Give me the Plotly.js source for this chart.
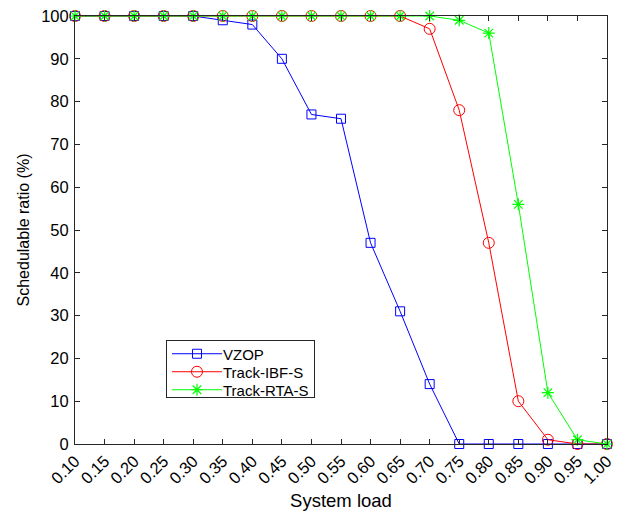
<!DOCTYPE html>
<html><head><meta charset="utf-8">
<script src="https://cdn.plot.ly/plotly-3.0.1.min.js"></script>
<style>html,body{margin:0;padding:0;background:#fff}#chart{width:630px;height:511px}</style>
</head><body><div id="chart"></div>
<script>
const loads = [0.10,0.15,0.20,0.25,0.30,0.35,0.40,0.45,0.50,0.55,0.60,0.65,0.70,0.75,0.80,0.85,0.90,0.95,1.00];
const vzop = [100,100,100,100,100,99,98,90,77,76,47,31,14,0,0,0,0,0,0];
const ibf  = [100,100,100,100,100,100,100,100,100,100,100,100,97,78,47,10,1,0,0];
const rta  = [100,100,100,100,100,100,100,100,100,100,100,100,100,99,96,56,12,1,0];
const tickLabels = loads.map(v => v.toFixed(2));
const seriesNames = ['VZOP','Track-IBF-S','Track-RTA-S'];

const font = {family: 'Liberation Sans, Arial, Helvetica, sans-serif', color: '#000'};
const traces = [
  {x: loads, y: vzop, name: seriesNames[0], mode: 'lines+markers', cliponaxis: false,
   line: {color: '#0000ff', width: 1}, marker: {symbol: 'square-open', size: 9, color: '#0000ff', line: {width: 1}}},
  {x: loads, y: ibf, name: seriesNames[1], mode: 'lines+markers', cliponaxis: false,
   line: {color: '#ff0000', width: 1}, marker: {symbol: 'circle-open', size: 11, color: '#ff0000', line: {width: 1}}},
  {x: loads, y: rta, name: seriesNames[2], mode: 'lines+markers', cliponaxis: false,
   line: {color: '#00ff00', width: 1}, marker: {symbol: 'asterisk-open', size: 10, color: '#00ff00', line: {width: 1.2, color: '#00ff00'}}}
];
const axisCommon = {
  showgrid: false, zeroline: false, showline: true, mirror: 'allticks',
  linecolor: '#262626', linewidth: 1, ticks: 'inside', ticklen: 5, tickcolor: '#262626',
  tickfont: Object.assign({size: 16.5}, font)
};
const layout = {
  width: 630, height: 511,
  margin: {l: 75, r: 23, t: 16, b: 67},
  paper_bgcolor: '#fff', plot_bgcolor: '#fff',
  font: font,
  showlegend: true,
  legend: {x: 0.171, y: 0.243, xanchor: 'left', yanchor: 'top',
    bgcolor: '#fff', bordercolor: '#262626', borderwidth: 1,
    font: Object.assign({size: 15}, font), tracegroupgap: 0},
  xaxis: Object.assign({}, axisCommon, {
    range: [0.1, 1.0], tickmode: 'array', tickvals: loads, ticktext: tickLabels, tickangle: -45,
    title: {text: 'System load', font: Object.assign({size: 18.5}, font), standoff: 8}
  }),
  yaxis: Object.assign({}, axisCommon, {
    range: [0, 100], dtick: 10, tick0: 0, ticklabelstandoff: 2,
    title: {text: 'Schedulable ratio (%)', font: Object.assign({size: 16}, font), standoff: 7}
  })
};
function tuneLegend(gd) {
  // MATLAB-style legend geometry: 18px rows, 50px line samples, 148x57 box
  const items = gd.querySelectorAll('.legend .traces');
  if (!items.length) return;
  const parse = el => { const m = /translate\(([-\d.]+)[ ,]*([-\d.]*)\)/.exec(el.getAttribute('transform') || ''); return m ? [parseFloat(m[1]) || 0, parseFloat(m[2]) || 0] : [0, 0]; };
  const first = items[0];
  if (!first.dataset.y0) first.dataset.y0 = parse(first)[1];
  const rowH = 18, firstY = parseFloat(first.dataset.y0) - 3.5;
  items.forEach((el, i) => {
    const p = parse(el);
    el.setAttribute('transform', 'translate(' + p[0] + ',' + (firstY + i * rowH) + ')');
    el.querySelectorAll('.legendlines path').forEach(path => path.setAttribute('d', 'M5,0h50'));
    el.querySelectorAll('.legendpoints path').forEach(path => {
      const q = parse(path); path.setAttribute('transform', 'translate(30,' + q[1] + ')');
    });
    const txt = el.querySelector('text.legendtext');
    if (txt) {
      if (!txt.dataset.x0) txt.dataset.x0 = parseFloat(txt.getAttribute('x') || 0);
      txt.setAttribute('x', parseFloat(txt.dataset.x0) + 16);
    }
  });
  const W = 148, H = 57;
  gd.querySelectorAll('.legend rect.bg').forEach(bg => {
    bg.setAttribute('height', H); bg.setAttribute('width', W);
    bg.style.height = H + 'px'; bg.style.width = W + 'px';
  });
  document.querySelectorAll('clipPath[id^="legend"] rect').forEach(r => {
    r.setAttribute('width', W + 20); r.setAttribute('height', H + 20);
  });
  gd.querySelectorAll('.legend .scrollbox').forEach(s => s.removeAttribute('clip-path'));
}
Plotly.newPlot('chart', traces, layout, {displayModeBar: false, staticPlot: true}).then(function (gd) {
  tuneLegend(gd);
  setTimeout(() => tuneLegend(gd), 30);
});
</script></body></html>
